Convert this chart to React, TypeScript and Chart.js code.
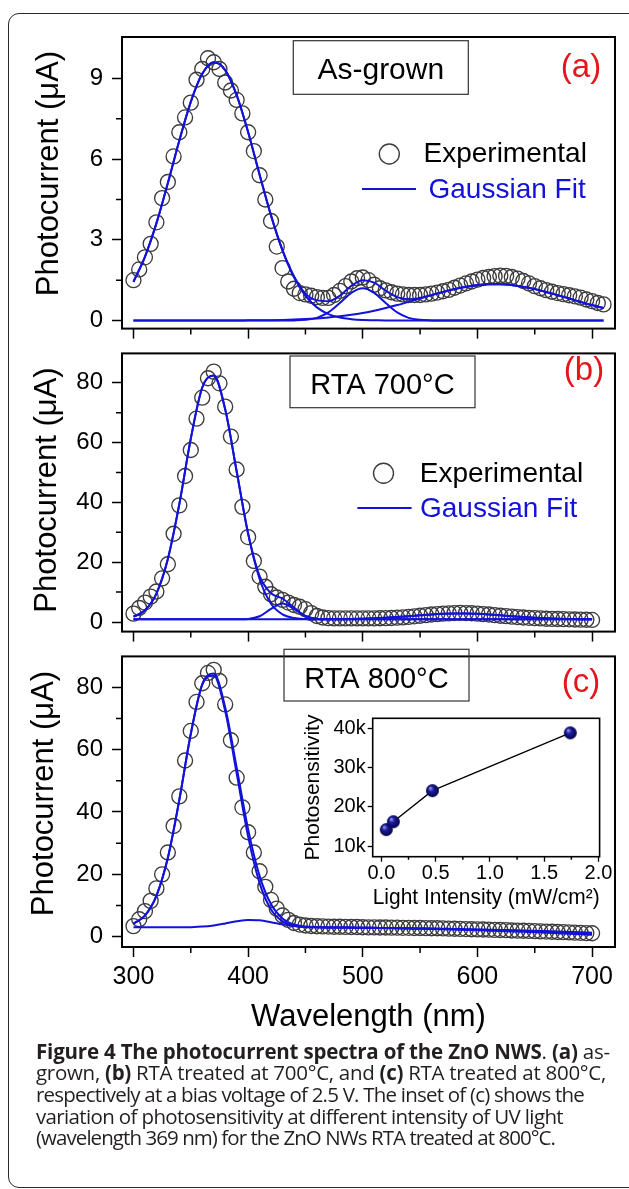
import React, { useEffect, useLayoutEffect, useRef } from 'react';
import { Chart, registerables } from 'chart.js';

Chart.register(...registerables);

const FONT = "'Liberation Sans', Arimo, Arial, sans-serif";
Chart.defaults.font.family = FONT;
Chart.defaults.color = '#000';

// ---------- data ----------
const WL_A = [300,305,310,315,320,325,330,335,340,345,350,355,360,365,370,375,380,385,390,395,400,405,410,415,420,425,430,435,440,445,450,455,460,465,470,475,480,485,490,495,500,505,510,515,520,525,530,535,540,545,550,555,560,565,570,575,580,585,590,595,600,605,610,615,620,625,630,635,640,645,650,655,660,665,670,675,680,685,690,695,700,705,710];
const WL_BC = [300,305,310,315,320,325,330,335,340,345,350,355,360,365,370,375,380,385,390,395,400,405,410,415,420,425,430,435,440,445,450,455,460,465,470,475,480,485,490,495,500,505,510,515,520,525,530,535,540,545,550,555,560,565,570,575,580,585,590,595,600,605,610,615,620,625,630,635,640,645,650,655,660,665,670,675,680,685,690,695,700];
const FIT_WL_A = [300,310,320,330,340,350,360,370,380,390,400,410,420,430,440,450,460,470,480,490,500,510,520,530,540,550,560,570,580,590,600,610,620,630,640,650,660,670,680,690,700,710];
const FIT_WL_BC = [300,310,320,330,340,350,360,370,380,390,400,410,420,430,440,450,460,470,480,490,500,510,520,530,540,550,560,570,580,590,600,610,620,630,640,650,660,670,680,690,700];

// (a) As-grown
const A_EXP = [1.5,1.9,2.35,2.85,3.65,4.55,5.15,6.1,7.0,7.55, 8.1,8.95,9.35,9.75,9.6,9.35,8.85,8.55,8.2,7.7, 7.0,6.3,5.4,4.5,3.7,2.75,1.95,1.45,1.18,1.02, 0.97,0.92,0.87,0.84,0.84,0.95,1.1,1.28,1.45,1.57, 1.6,1.5,1.33,1.2,1.12,1.05,1.0,0.97,0.95,0.95, 0.95,0.97,1.0,1.04,1.09,1.14,1.22,1.3,1.38,1.45, 1.52,1.58,1.62,1.65,1.67,1.66,1.62,1.56,1.47,1.38, 1.28,1.2,1.13,1.07,1.02,0.98,0.94,0.9,0.85,0.78, 0.72,0.65,0.6];
const A_FIT_SUM = [1.44,2.37,3.61,5.11,6.69,8.13,9.17,9.6,9.31,8.38, 7.01,5.43,3.91,2.62,1.65,1.0,0.75,0.72,0.92,1.29, 1.5,1.41,1.11,0.87,0.79,0.84,0.95,1.06,1.17,1.25, 1.32,1.35,1.35,1.32,1.25,1.17,1.06,0.94,0.82,0.69, 0.57,0.46];
const A_FIT_P1 = [1.44,2.37,3.61,5.11,6.69,8.13,9.17,9.6,9.31,8.38, 7.0,5.42,3.89,2.6,1.61,0.92,0.49,0.24,0.11,0.05, 0.02,0.01,0,0,0,0,0,0,0,0, 0,0,0,0,0,0,0,0,0,0, 0,0];
const A_FIT_P2 = [0,0,0,0,0,0,0,0,0,0, 0,0,0,0,0.005,0.025,0.1,0.3,0.65,1.03, 1.2,1.03,0.65,0.3,0.1,0.025,0.005,0,0,0, 0,0,0,0,0,0,0,0,0,0, 0,0];
const A_FIT_P3 = [0,0,0,0,0,0,0,0,0,0, 0.006,0.009,0.015,0.024,0.036,0.054,0.079,0.112,0.156,0.212, 0.282,0.366,0.464,0.574,0.694,0.819,0.944,1.062,1.168,1.254, 1.315,1.346,1.346,1.315,1.254,1.168,1.062,0.944,0.819,0.694, 0.574,0.464];

// (b) RTA 700 C
const B_EXP = [2.8,4.7,6.5,8.5,10.2,14.6,19.3,29.5,39,48.8, 57.5,68,75,81.5,83.7,79.8,72,62,51,38.5, 28.4,20.4,15.2,11.8,9.3,8.2,7.4,6.5,5.7,5.1, 4.3,3.0,2.0,1.5,1.3,1.2,1.2,1.2,1.2,1.2, 1.2,1.2,1.2,1.25,1.3,1.35,1.45,1.55,1.7,1.9, 2.1,2.3,2.5,2.65,2.8,2.9,3.0,3.05,3.0,2.95, 2.8,2.65,2.5,2.3,2.1,1.95,1.8,1.65,1.5,1.4, 1.3,1.2,1.1,1.05,1.0,0.95,0.9,0.85,0.8,0.75, 0.7];
const B_FIT_SUM = [1.77,3.92,9.52,21.1,39.4,61.3,78.4,82.4,71.1,50.4, 29.6,15.4,9.6,7.86,4.83,2.01,1.07,0.94,0.96,1.02, 1.11,1.25,1.43,1.68,1.96,2.26,2.55,2.76,2.88,2.88, 2.76,2.55,2.26,1.96,1.68,1.43,1.25,1.11,1.02,0.96, 0.93];
const B_FIT_P1 = [1.77,3.92,9.52,21.1,39.4,61.3,78.4,82.4,71.1,50.4, 29.5,14.4,6.1,2.56,1.33,0.99,0.92,0.9,0.9,0.9, 0.9,0.9,0.9,0.9,0.9,0.9,0.9,0.9,0.9,0.9, 0.9,0.9,0.9,0.9,0.9,0.9,0.9,0.9,0.9,0.9, 0.9];
const B_FIT_P2 = [0.9,0.9,0.9,0.9,0.9,0.9,0.9,0.9,0.9,0.9, 1.03,1.92,4.4,6.2,4.4,1.92,1.03,0.9,0.9,0.9, 0.9,0.9,0.9,0.9,0.9,0.9,0.9,0.9,0.9,0.9, 0.9,0.9,0.9,0.9,0.9,0.9,0.9,0.9,0.9,0.9, 0.9];
const B_FIT_P3 = [0.9,0.9,0.9,0.9,0.9,0.9,0.9,0.9,0.9,0.9, 0.9,0.9,0.9,0.9,0.9,0.9,0.92,0.93,0.96,1.02, 1.11,1.25,1.43,1.68,1.96,2.26,2.55,2.76,2.88,2.88, 2.76,2.55,2.26,1.96,1.68,1.43,1.25,1.11,1.02,0.96, 0.93];

// (c) RTA 800 C
const C_EXP = [3.4,5.6,8.2,11.5,15.5,20,27,35.5,45,56.5, 66,75.3,81.3,84.6,85.6,82,74.5,63,51,41.5, 33.5,27,21,16,11.8,9,6.8,5.4,4.4,3.9, 3.6,3.45,3.35,3.3,3.25,3.2,3.2,3.15,3.1,3.1, 3.05,3.0,3.0,2.95,2.95,2.9,2.9,2.85,2.85,2.8, 2.8,2.75,2.7,2.7,2.65,2.6,2.55,2.5,2.45,2.4, 2.35,2.3,2.25,2.2,2.15,2.1,2.0,1.95,1.9,1.85, 1.8,1.7,1.65,1.6,1.5,1.45,1.4,1.3,1.25,1.15, 1.1];
const C_FIT_SUM = [4.17,6.78,13.1,25.3,43.9,65.1,81.0,84.4,73.6,54.3, 34.5,19.5,10.4,5.86,3.93,3.25,3.05,2.98,2.95,2.92, 2.88,2.84,2.8,2.75,2.7,2.65,2.6,2.54,2.48,2.41, 2.34,2.26,2.18,2.09,2.0,1.9,1.8,1.68,1.55,1.42, 1.3];
const C_FIT_P1 = [4.17,6.78,13.1,25.3,43.9,65.0,80.8,83.8,72.4,52.4, 32.1,17.2,8.7,4.9,3.5,3.1,3.02,2.98,2.95,2.92, 2.88,2.84,2.8,2.75,2.7,2.64,2.58,2.5,2.42,2.33, 2.24,2.14,2.04,1.93,1.81,1.69,1.56,1.42,1.28,1.14, 1.0];
const C_FIT_P2 = [3.0,3.0,3.0,3.0,3.0,3.07,3.24,3.62,4.24,4.94, 5.37,5.26,4.67,3.96,3.43,3.15,3.04,2.98,2.94,2.9, 2.85,2.8,2.74,2.68,2.61,2.54,2.46,2.37,2.28,2.18, 2.07,1.95,1.83,1.7,1.56,1.42,1.27,1.11,0.95,0.78, 0.6];

// inset of (c)
const INSET_INTENSITY = [0.045, 0.11, 0.47, 1.74];
const INSET_SENS = [14200, 16200, 24100, 38800];

// ticks
const X_MAJOR = [300, 400, 500, 600, 700];
const X_MINOR = [350, 450, 550, 650];
const A_Y_MAJOR = [0, 3, 6, 9];
const A_Y_MINOR = [1.5, 4.5, 7.5];
const BC_Y_MAJOR = [0, 20, 40, 60, 80];
const BC_Y_MINOR = [10, 30, 50, 70];
const INSET_X_MAJOR = [0, 0.5, 1, 1.5, 2];
const INSET_X_MINOR = [0.25, 0.75, 1.25, 1.75];
const INSET_Y_MAJOR = [10000, 20000, 30000, 40000];

// caption
const CAPTION_LEFT = 36;
const CAPTION_RIGHTS = [610, 606, 584, 563, 555];

// ---------- styling ----------
const BLUE = '#1212d8';
const RED = '#e5161b';
const CIRCLE = '#3c3c3c';
const AREA_LEFT = 122;
const AREA_RIGHT = 615;
const PAGE_W = 629;

function makeSphere(r: number): HTMLCanvasElement {
  const size = Math.ceil(r * 2 + 2);
  const c = document.createElement('canvas');
  c.width = size;
  c.height = size;
  const g = c.getContext('2d');
  if (g) {
    const cx = size / 2;
    const grad = g.createRadialGradient(cx - r * 0.35, cx - r * 0.4, r * 0.1, cx, cx, r);
    grad.addColorStop(0, '#8a8ae8');
    grad.addColorStop(0.35, '#1c1ca0');
    grad.addColorStop(1, '#020240');
    g.fillStyle = grad;
    g.beginPath();
    g.arc(cx, cx, r, 0, Math.PI * 2);
    g.fill();
  }
  return c;
}

type Item =
  | { t: 'text'; s: string; x: number; y: number; size: number; color?: string; align?: CanvasTextAlign; base?: CanvasTextBaseline; rot?: boolean }
  | { t: 'rect'; x0: number; y0: number; x1: number; y1: number; w?: number; color?: string }
  | { t: 'circle'; x: number; y: number; r: number; w?: number; color?: string }
  | { t: 'seg'; x0: number; y0: number; x1: number; y1: number; w?: number; color?: string };

function overlay(ox: number, oy: number, items: Item[], minorX: number[], minorY: number[], xLen: number, yLen: number, frameW: number) {
  return {
    id: 'overlay',
    afterDraw(chart: any) {
      const ctx = chart.ctx as CanvasRenderingContext2D;
      const a = chart.chartArea;
      const xs = chart.scales.x;
      const ys = chart.scales.y;
      ctx.save();
      ctx.strokeStyle = '#000';
      ctx.lineWidth = 1.5;
      ctx.beginPath();
      for (const v of minorX) {
        const px = xs.getPixelForValue(v);
        ctx.moveTo(px, a.bottom);
        ctx.lineTo(px, a.bottom + xLen);
      }
      for (const v of minorY) {
        const py = ys.getPixelForValue(v);
        ctx.moveTo(a.left, py);
        ctx.lineTo(a.left - yLen, py);
      }
      ctx.stroke();
      ctx.lineWidth = frameW;
      ctx.strokeRect(a.left, a.top, a.right - a.left, a.bottom - a.top);
      ctx.translate(-ox, -oy);
      for (const it of items) {
        if (it.t === 'text') {
          ctx.save();
          ctx.fillStyle = it.color || '#000';
          ctx.font = `${it.size}px ${FONT}`;
          ctx.textAlign = it.align || 'left';
          ctx.textBaseline = it.base || 'alphabetic';
          ctx.translate(it.x, it.y);
          if (it.rot) ctx.rotate(-Math.PI / 2);
          ctx.fillText(it.s, 0, 0);
          ctx.restore();
        } else if (it.t === 'rect') {
          ctx.strokeStyle = it.color || '#333';
          ctx.lineWidth = it.w || 1.2;
          ctx.strokeRect(it.x0, it.y0, it.x1 - it.x0, it.y1 - it.y0);
        } else if (it.t === 'circle') {
          ctx.strokeStyle = it.color || CIRCLE;
          ctx.lineWidth = it.w || 1.4;
          ctx.beginPath();
          ctx.arc(it.x, it.y, it.r, 0, Math.PI * 2);
          ctx.stroke();
        } else if (it.t === 'seg') {
          ctx.strokeStyle = it.color || '#000';
          ctx.lineWidth = it.w || 2;
          ctx.beginPath();
          ctx.moveTo(it.x0, it.y0);
          ctx.lineTo(it.x1, it.y1);
          ctx.stroke();
        }
      }
      ctx.restore();
    },
  };
}

function pts(xs: number[], ys: number[]) {
  return xs.map((x, i) => ({ x, y: ys[i] }));
}

type PanelSpec = {
  top: number;
  height: number;
  areaTop: number;
  areaBottom: number;
  yMin: number;
  yMax: number;
  yMajor: number[];
  yMinor: number[];
  expX: number[];
  expY: number[];
  fitX: number[];
  fits: number[][];
  showX: boolean;
  items: Item[];
};

function spectrumConfig(p: PanelSpec): any {
  const fitSets = p.fits.map((f) => ({
    data: pts(p.fitX, f),
    showLine: true,
    borderColor: BLUE,
    backgroundColor: BLUE,
    borderWidth: 2,
    pointRadius: 0,
    cubicInterpolationMode: 'monotone',
    order: 0,
  }));
  const expSet = {
    data: pts(p.expX, p.expY),
    showLine: false,
    borderColor: CIRCLE,
    backgroundColor: 'rgba(0,0,0,0)',
    pointBorderColor: CIRCLE,
    pointBackgroundColor: 'rgba(0,0,0,0)',
    pointRadius: 7.5,
    pointBorderWidth: 1.35,
    borderWidth: 1.35,
    order: 1,
  };
  const grid = {
    display: true,
    drawOnChartArea: false,
    drawTicks: true,
    tickLength: 10,
    tickWidth: 1.5,
    tickColor: '#000',
  };
  return {
    type: 'scatter',
    data: { datasets: [...fitSets, expSet] },
    options: {
      animation: false,
      responsive: false,
      devicePixelRatio: 1,
      events: [],
      layout: { padding: { left: 0, right: PAGE_W - AREA_RIGHT, top: p.areaTop - p.top, bottom: 0 } },
      plugins: { legend: { display: false }, tooltip: { enabled: false } },
      scales: {
        x: {
          type: 'linear',
          min: 290,
          max: 720,
          afterBuildTicks: (s: any) => {
            s.ticks = X_MAJOR.map((v) => ({ value: v }));
          },
          afterFit: (s: any) => {
            s.height = p.top + p.height - p.areaBottom;
          },
          grid,
          border: { display: false },
          ticks: {
            display: p.showX,
            autoSkip: false,
            maxRotation: 0,
            padding: 5,
            color: '#000',
            font: { size: 25 },
          },
          title: {
            display: p.showX,
            text: 'Wavelength (nm)',
            color: '#000',
            font: { size: 31 },
            padding: { top: 0, bottom: 4 },
          },
        },
        y: {
          type: 'linear',
          min: p.yMin,
          max: p.yMax,
          afterBuildTicks: (s: any) => {
            s.ticks = p.yMajor.map((v) => ({ value: v }));
          },
          afterFit: (s: any) => {
            s.width = AREA_LEFT;
          },
          grid,
          border: { display: false },
          ticks: { padding: 9, color: '#000', font: { size: 24 }, autoSkip: false },
        },
      },
    },
    plugins: [overlay(0, p.top, p.items, X_MINOR, p.yMinor, 6, 6, 2)],
  };
}

function insetConfig(left: number, top: number, width: number, height: number): any {
  const aLeft = 372.7, aTop = 718.3, aRight = 599.6, aBottom = 856.7;
  const grid = {
    display: true,
    drawOnChartArea: false,
    drawTicks: true,
    tickLength: 5,
    tickWidth: 1.3,
    tickColor: '#000',
  };
  return {
    type: 'scatter',
    data: {
      datasets: [
        {
          data: pts(INSET_INTENSITY, INSET_SENS),
          showLine: true,
          borderColor: '#000',
          borderWidth: 1.3,
          pointRadius: 6.5,
          pointStyle: makeSphere(6.5),
          pointBackgroundColor: '#0c0c7a',
          pointBorderColor: '#05053f',
          pointBorderWidth: 1,
        },
      ],
    },
    options: {
      animation: false,
      responsive: false,
      devicePixelRatio: 1,
      events: [],
      layout: { padding: { left: 0, right: left + width - aRight, top: aTop - top, bottom: 0 } },
      plugins: { legend: { display: false }, tooltip: { enabled: false } },
      scales: {
        x: {
          type: 'linear',
          min: -0.08,
          max: 2.01,
          afterBuildTicks: (s: any) => {
            s.ticks = INSET_X_MAJOR.map((v) => ({ value: v }));
          },
          afterFit: (s: any) => {
            s.height = top + height - aBottom;
          },
          grid,
          border: { display: false },
          ticks: {
            autoSkip: false,
            maxRotation: 0,
            padding: 0,
            color: '#000',
            font: { size: 20 },
            callback: (v: number) => Number(v).toFixed(1),
          },
          title: {
            display: true,
            text: 'Light Intensity (mW/cm²)',
            color: '#000',
            font: { size: 21.5 },
            padding: { top: 0, bottom: 1 },
          },
        },
        y: {
          type: 'linear',
          min: 7300,
          max: 42500,
          afterBuildTicks: (s: any) => {
            s.ticks = INSET_Y_MAJOR.map((v) => ({ value: v }));
          },
          afterFit: (s: any) => {
            s.width = aLeft - left;
          },
          grid,
          border: { display: false },
          ticks: {
            padding: 2,
            color: '#000',
            font: { size: 20 },
            callback: (v: number) => `${Math.round(Number(v) / 1000)}k`,
          },
          title: {
            display: true,
            text: 'Photosensitivity',
            color: '#000',
            font: { size: 21 },
            padding: { top: 10.4, bottom: 0 },
          },
        },
      },
    },
    plugins: [overlay(left, top, [], INSET_X_MINOR, [], 3, 3, 1.6)],
  };
}

function ChartCanvas(props: { left: number; top: number; width: number; height: number; make: () => any }) {
  const ref = useRef<HTMLCanvasElement | null>(null);
  useEffect(() => {
    if (!ref.current) return;
    const chart = new Chart(ref.current, props.make());
    return () => chart.destroy();
  }, []);
  return (
    <canvas
      ref={ref}
      width={props.width}
      height={props.height}
      style={{ position: 'absolute', left: props.left, top: props.top, width: props.width, height: props.height }}
    />
  );
}

const PANEL_A: PanelSpec = {
  top: 0,
  height: 352,
  areaTop: 37,
  areaBottom: 340,
  yMin: -0.3,
  yMax: 10.54,
  yMajor: A_Y_MAJOR,
  yMinor: A_Y_MINOR,
  expX: WL_A,
  expY: A_EXP,
  fitX: FIT_WL_A,
  fits: [A_FIT_P1, A_FIT_P2, A_FIT_P3, A_FIT_SUM],
  showX: false,
  items: [
    { t: 'text', s: 'Photocurrent (μA)', x: 49, y: 173.5, size: 31, align: 'center', base: 'middle', rot: true },
    { t: 'rect', x0: 293.3, y0: 40.7, x1: 468.3, y1: 94.3 },
    { t: 'text', s: 'As-grown', x: 380.8, y: 79.3, size: 30, align: 'center' },
    { t: 'text', s: '(a)', x: 581, y: 77, size: 33, align: 'center', color: RED },
    { t: 'circle', x: 389.3, y: 154, r: 10 },
    { t: 'text', s: 'Experimental', x: 423.5, y: 162, size: 28 },
    { t: 'seg', x0: 362, y0: 189, x1: 416, y1: 189, color: BLUE, w: 2 },
    { t: 'text', s: 'Gaussian Fit', x: 428.5, y: 198, size: 28, color: BLUE },
  ],
};

const PANEL_B: PanelSpec = {
  top: 330,
  height: 325,
  areaTop: 340,
  areaBottom: 643,
  yMin: -3.2,
  yMax: 89.8,
  yMajor: BC_Y_MAJOR,
  yMinor: BC_Y_MINOR,
  expX: WL_BC,
  expY: B_EXP,
  fitX: FIT_WL_BC,
  fits: [B_FIT_P1, B_FIT_P2, B_FIT_P3, B_FIT_SUM],
  showX: false,
  items: [
    { t: 'text', s: 'Photocurrent (μA)', x: 47, y: 490, size: 31, align: 'center', base: 'middle', rot: true },
    { t: 'rect', x0: 290, y0: 356, x1: 475, y1: 407.7 },
    { t: 'text', s: 'RTA 700°C', x: 382.5, y: 394, size: 29, align: 'center' },
    { t: 'text', s: '(b)', x: 584, y: 380, size: 33, align: 'center', color: RED },
    { t: 'circle', x: 383.5, y: 473.3, r: 10 },
    { t: 'text', s: 'Experimental', x: 419.7, y: 482, size: 28 },
    { t: 'seg', x0: 357.4, y0: 508, x1: 411.6, y1: 508, color: BLUE, w: 2 },
    { t: 'text', s: 'Gaussian Fit', x: 420, y: 517, size: 28, color: BLUE },
  ],
};

const PANEL_C: PanelSpec = {
  top: 633,
  height: 407,
  areaTop: 643,
  areaBottom: 947,
  yMin: -3.3,
  yMax: 89.9,
  yMajor: BC_Y_MAJOR,
  yMinor: BC_Y_MINOR,
  expX: WL_BC,
  expY: C_EXP,
  fitX: FIT_WL_BC,
  fits: [C_FIT_P1, C_FIT_P2, C_FIT_SUM],
  showX: true,
  items: [
    { t: 'text', s: 'Photocurrent (μA)', x: 44, y: 793.5, size: 31, align: 'center', base: 'middle', rot: true },
    { t: 'rect', x0: 284, y0: 649.3, x1: 469, y1: 701 },
    { t: 'text', s: 'RTA 800°C', x: 376.5, y: 688.3, size: 29, align: 'center' },
    { t: 'text', s: '(c)', x: 581, y: 692, size: 33, align: 'center', color: RED },
  ],
};

function Caption() {
  const refs = useRef<(HTMLSpanElement | null)[]>([]);
  useLayoutEffect(() => {
    let cancelled = false;
    const fit = () => {
      refs.current.forEach((el, i) => {
        if (!el) return;
        el.style.letterSpacing = '0px';
        const w = el.getBoundingClientRect().width;
        const n = (el.textContent || '').length;
        const target = CAPTION_RIGHTS[i] - CAPTION_LEFT;
        if (n > 0) el.style.letterSpacing = `${(target - w) / n}px`;
      });
    };
    fit();
    const fonts = (document as any).fonts;
    if (fonts && fonts.ready) {
      fonts.ready.then(() => {
        if (!cancelled) fit();
      });
    }
    return () => {
      cancelled = true;
    };
  }, []);
  const lineStyle: React.CSSProperties = { display: 'inline-block', whiteSpace: 'nowrap' };
  const lines: React.ReactNode[] = [
    <>
      <b>Figure 4 The photocurrent spectra of the ZnO NWS</b>. <b>(a)</b> as-
    </>,
    <>
      grown, <b>(b)</b> RTA treated at 700°C, and <b>(c)</b> RTA treated at 800°C,
    </>,
    <>respectively at a bias voltage of 2.5 V. The inset of (c) shows the</>,
    <>variation of photosensitivity at different intensity of UV light</>,
    <>(wavelength 369 nm) for the ZnO NWs RTA treated at 800°C.</>,
  ];
  return (
    <div
      style={{
        position: 'absolute',
        left: CAPTION_LEFT,
        top: 1040.5,
        fontFamily: "'Open Sans', 'Noto Sans', sans-serif",
        fontSize: 20.5,
        lineHeight: '21.7px',
        color: '#231f20',
      }}
    >
      {lines.map((l, i) => (
        <div key={i} style={{ height: 21.7 }}>
          <span ref={(el) => { refs.current[i] = el; }} style={lineStyle}>
            {l}
          </span>
        </div>
      ))}
    </div>
  );
}

export default function App() {
  return (
    <div style={{ position: 'absolute', left: 0, top: 0, width: PAGE_W, height: 1189, overflow: 'hidden', background: '#fff' }}>
      <div
        style={{
          position: 'absolute',
          left: 8,
          top: 13,
          width: 660,
          height: 1175,
          border: '1.5px solid #2a2a2a',
          borderRadius: 11,
          boxSizing: 'border-box',
        }}
      />
      <ChartCanvas left={0} top={PANEL_A.top} width={PAGE_W} height={PANEL_A.height} make={() => spectrumConfig(PANEL_A)} />
      <ChartCanvas left={0} top={PANEL_B.top} width={PAGE_W} height={PANEL_B.height} make={() => spectrumConfig(PANEL_B)} />
      <ChartCanvas left={0} top={PANEL_C.top} width={PAGE_W} height={PANEL_C.height} make={() => spectrumConfig(PANEL_C)} />
      <ChartCanvas left={290} top={700} width={339} height={212} make={() => insetConfig(290, 700, 339, 212)} />
      <Caption />
    </div>
  );
}
